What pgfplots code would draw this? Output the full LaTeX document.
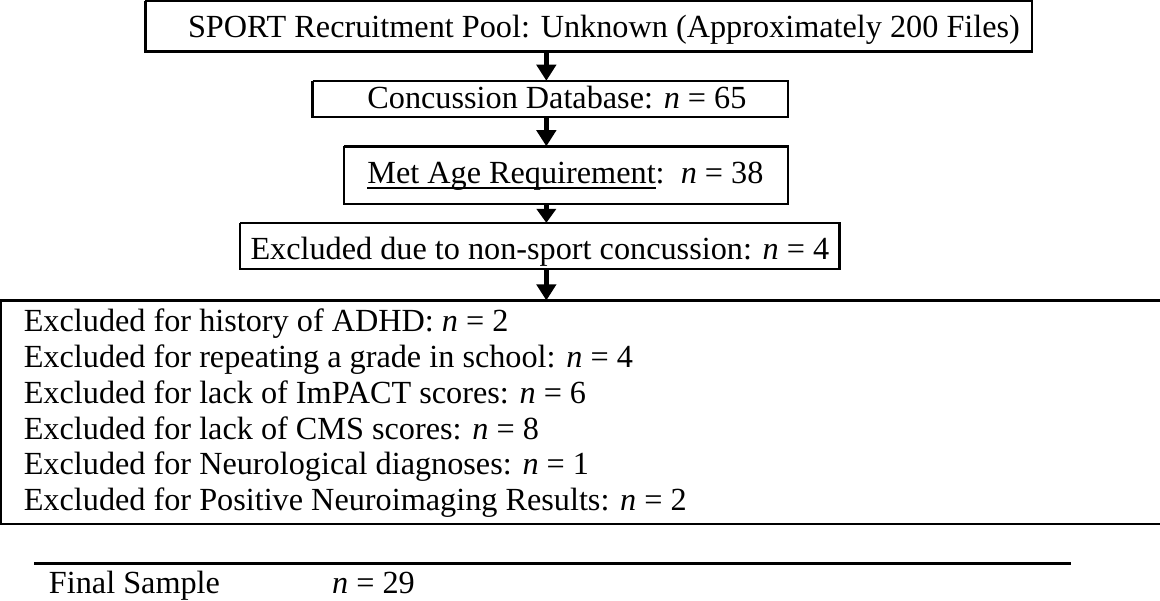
\documentclass[border=0pt]{standalone}
\usepackage{pgfplots}
\pgfplotsset{compat=1.18}
\usetikzlibrary{arrows.meta}
\usepackage{fontspec}
\setmainfont{Liberation Serif}
\newcommand\ul[1]{\setbox0\hbox{#1}\rlap{\rule[-2.6pt]{\wd0}{0.9pt}}\box0}
\begin{document}
\begin{tikzpicture}
\begin{axis}[width=580pt, height=301.5pt, scale only axis,
  xmin=0, xmax=1160, ymin=0, ymax=603, y dir=reverse, hide axis, clip=true]
% boxes
\addplot[black, line width=1.2pt, mark=none] coordinates {(153,7) (1033,7) (1033,57) (153,57) (153,7)};
\addplot[black, line width=1.2pt, mark=none] coordinates {(319,86) (791,86) (791,122) (319,122) (319,86)};
\addplot[black, line width=1.2pt, mark=none] coordinates {(350,151) (791,151) (791,208) (350,208) (350,151)};
\addplot[black, line width=1.2pt, mark=none] coordinates {(247,227) (842,227) (842,273) (247,273) (247,227)};
\addplot[black, line width=1.2pt, mark=none] coordinates {(1170,304) (10,304) (10,526) (1170,526)};
% bottom rule
\addplot[black, line width=1.5pt, mark=none] coordinates {(43,565) (1072,565)};
% arrows
\addplot[black, line width=2.4pt, mark=none, -{Triangle[width=9.5pt,length=8pt]}] coordinates {(551,57) (551,86)};
\addplot[black, line width=2.4pt, mark=none, -{Triangle[width=9.5pt,length=8pt]}] coordinates {(551,122) (551,151)};
\addplot[black, line width=2.4pt, mark=none, -{Triangle[width=9.5pt,length=7pt]}] coordinates {(551,208) (551,227)};
\addplot[black, line width=2.4pt, mark=none, -{Triangle[width=9.5pt,length=8pt]}] coordinates {(551,273) (551,304)};
% texts
\tikzset{txt/.style={anchor=base west, inner sep=0pt, font=\fontsize{16}{18.5}\selectfont}}
\node[txt] at (axis cs:195,43) {SPORT Recruitment Pool: Unknown (Approximately 200 Files)};
\node[txt] at (axis cs:373,113) {Concussion Database: \textit{n} = 65};
\node[txt] at (axis cs:373,188) {\ul{Met Age Requirement}:\ \ \textit{n} = 38};
\node[txt] at (axis cs:257,263) {Excluded due to non-sport concussion: \textit{n} = 4};
\node[txt] at (axis cs:32,335) {Excluded for history of ADHD: \textit{n} = 2};
\node[txt] at (axis cs:32,370.5) {Excluded for repeating a grade in school: \textit{n} = 4};
\node[txt] at (axis cs:32,406) {Excluded for lack of ImPACT scores: \textit{n} = 6};
\node[txt] at (axis cs:32,441.5) {Excluded for lack of CMS scores: \textit{n} = 8};
\node[txt] at (axis cs:32,477) {Excluded for Neurological diagnoses: \textit{n} = 1};
\node[txt] at (axis cs:32,512.5) {Excluded for Positive Neuroimaging Results: \textit{n} = 2};
\node[txt] at (axis cs:57,595) {Final Sample};
\node[txt] at (axis cs:338,595) {\textit{n} = 29};
\end{axis}
\end{tikzpicture}
\end{document}
